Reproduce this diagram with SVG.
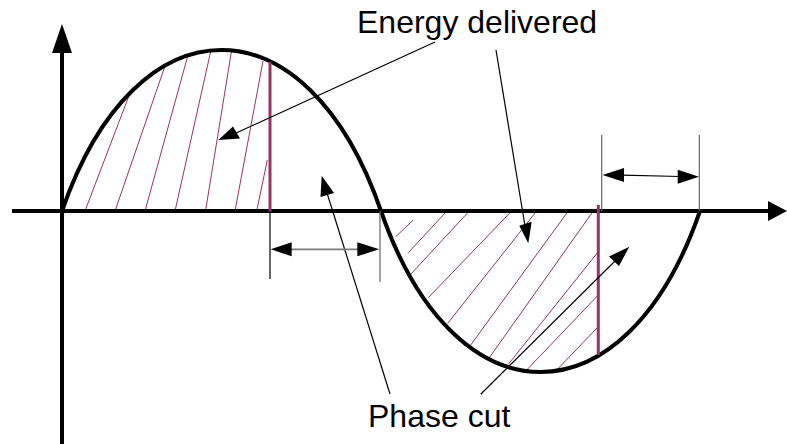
<svg xmlns="http://www.w3.org/2000/svg" width="787" height="444" viewBox="0 0 787 444">
<style>
.axis{stroke:#000;stroke-width:4;fill:none}
.curve{stroke:#000;stroke-width:4;fill:none}
.cut{stroke:#993366;stroke-width:3;fill:none}
.hatch{stroke:#993366;stroke-width:1;fill:none}
.lead{stroke:#000;stroke-width:1.2;fill:none}
.dim{stroke:#000;stroke-width:1.2;fill:none}
.dimg{stroke:#666;stroke-width:1.2;fill:none}
.shaft{stroke:#7a7a7a;stroke-width:1.8;fill:none}
.head{fill:#000;stroke:none}
.lbl{font-family:"Liberation Sans",Arial,sans-serif;font-size:32px;fill:#000}
</style>
<rect width="787" height="444" fill="#fff"/>
<g id="hatch1">
<line class="hatch" x1="85" y1="211" x2="130" y2="93"/>
<line class="hatch" x1="115" y1="211" x2="165" y2="66"/>
<line class="hatch" x1="145" y1="211" x2="188" y2="55"/>
<line class="hatch" x1="175" y1="211" x2="211" y2="50"/>
<line class="hatch" x1="205.5" y1="211" x2="231.5" y2="51"/>
<line class="hatch" x1="235" y1="211" x2="263" y2="61"/>
<line class="hatch" x1="256.7" y1="211" x2="267.3" y2="160"/>
</g>
<g id="hatch2">
<line class="hatch" x1="395.7" y1="236.7" x2="413.3" y2="220"/>
<line class="hatch" x1="408.3" y1="252.7" x2="446" y2="212"/>
<line class="hatch" x1="410.7" y1="274.3" x2="469.3" y2="211"/>
<line class="hatch" x1="428.3" y1="297.7" x2="511.7" y2="211"/>
<line class="hatch" x1="447.7" y1="323.3" x2="536.7" y2="211"/>
<line class="hatch" x1="470.7" y1="345" x2="568.3" y2="211"/>
<line class="hatch" x1="489.3" y1="357.7" x2="593.3" y2="211"/>
<line class="hatch" x1="508.3" y1="364.3" x2="598.3" y2="251.7"/>
<line class="hatch" x1="526.7" y1="370" x2="598.3" y2="295"/>
<line class="hatch" x1="556.7" y1="370" x2="598.3" y2="326.7"/>
</g>
<g id="axes">
<line class="axis" x1="62" y1="444" x2="62" y2="50"/>
<polygon class="head" points="62,24 72,53 52,53"/>
<line class="axis" x1="12" y1="211" x2="770" y2="211"/>
<polygon class="head" points="787,211 768,201 768,221"/>
</g>
<g id="wave">
<path class="curve" d="M62,211 C136,-3.7 307,-3.7 381,211 C455,425.7 626,425.7 700,211"/>
</g>
<g id="cut-lines">
<line class="cut" x1="270" y1="62" x2="270" y2="212"/>
<line class="cut" x1="598.3" y1="205" x2="598.3" y2="355"/>
</g>
<g id="connectors">
<line class="lead" x1="435" y1="42" x2="234" y2="134"/>
<polygon class="head" points="218.3,140 233,126.5 240,138.5"/>
<line class="lead" x1="496" y1="50" x2="525" y2="226"/>
<polygon class="head" points="528.3,243.3 519.3,225.7 531.7,221.7"/>
<line class="lead" x1="390" y1="394" x2="327" y2="193"/>
<polygon class="head" points="321.7,175.7 320.5,197 334,193"/>
<line class="lead" x1="480.7" y1="394.3" x2="616" y2="260"/>
<polygon class="head" points="629.3,246.7 609,256.5 619,266"/>
</g>
<g id="dimension-left">
<line class="dim" x1="270" y1="211" x2="270" y2="279"/>
<line class="dimg" x1="380" y1="211" x2="380" y2="282"/>
<line class="shaft" x1="290" y1="249.3" x2="359" y2="249.3"/>
<polygon class="head" points="270.7,249.3 291.7,242.3 291.7,256.3"/>
<polygon class="head" points="379.3,249.3 357.3,242.3 357.3,256.3"/>
</g>
<g id="dimension-right">
<line class="dimg" x1="601.7" y1="135" x2="601.7" y2="211"/>
<line class="dimg" x1="699.3" y1="135" x2="699.3" y2="211"/>
<line class="lead" x1="622" y1="175.2" x2="680" y2="176.5"/>
<polygon class="head" points="602.5,175 624,168 624,182"/>
<polygon class="head" points="699,176.7 677.7,169.7 677.7,183.7"/>
</g>
<g id="label-energy">
<text class="lbl" x="357" y="33">Energy delivered</text>
</g>
<g id="label-phase">
<text class="lbl" x="368" y="427">Phase cut</text>
</g>
</svg>
